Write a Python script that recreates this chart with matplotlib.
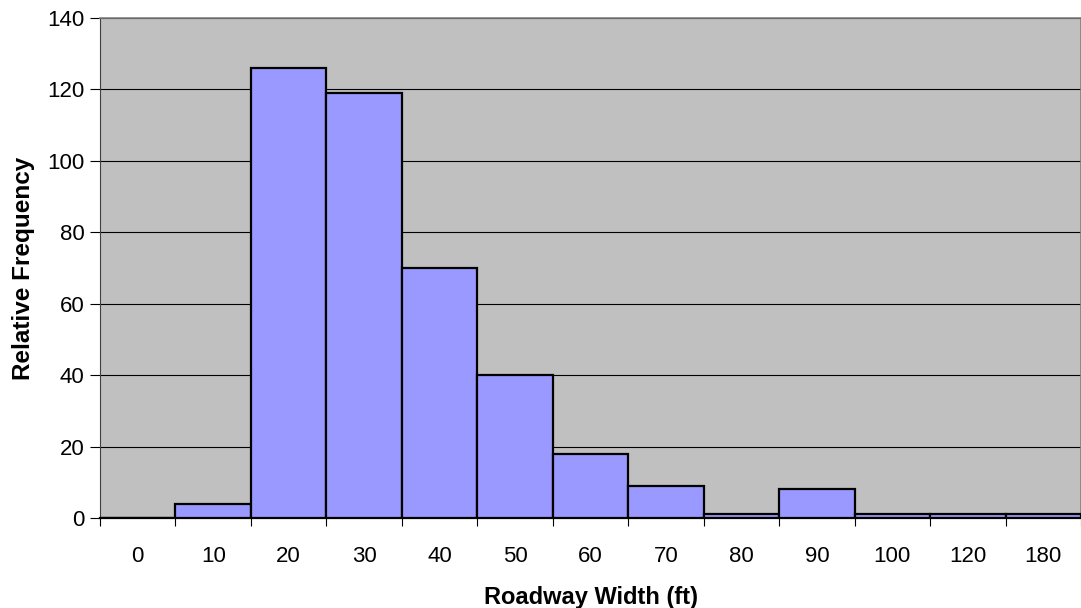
import numpy as np
import matplotlib
matplotlib.use("Agg")
import matplotlib.pyplot as plt

# data
widths = ["0", "10", "20", "30", "40", "50", "60", "70", "80", "90", "100", "120", "180"]
freq = [0, 4, 126, 119, 70, 40, 18, 9, 1, 8, 1, 1, 1]

plt.rcParams['font.family'] = ['Liberation Sans', 'DejaVu Sans']

fig = plt.figure(figsize=(10.81, 6.08), dpi=100)
ax = fig.add_axes([100 / 1081, 90 / 608, 981 / 1081, 500 / 608])
ax.set_facecolor('#C0C0C0')

x = np.arange(len(widths))
ax.bar(x, freq, width=1.0, color='#9999FF', edgecolor='black', linewidth=1.6, zorder=3)

ax.set_xlim(-0.5, len(widths) - 0.5)
ax.set_ylim(0, 140)
ax.set_yticks(np.arange(0, 141, 20))
ax.yaxis.grid(True, color='black', linewidth=0.8, zorder=1)
ax.set_axisbelow(True)

# ticks at category boundaries, labels centered on categories
ax.set_xticks(np.arange(-0.5, len(widths), 1.0))
ax.set_xticklabels([])
ax.set_xticks(x, minor=True)
ax.set_xticklabels(widths, minor=True)
ax.tick_params(axis='x', which='major', length=6, width=0.8, color='black', direction='out')
ax.tick_params(axis='x', which='minor', length=0, pad=20, labelsize=16)
ax.tick_params(axis='y', length=7, width=0.8, color='black', labelsize=16, pad=4)

for s in ['top', 'right']:
    ax.spines[s].set_color('#808080')
    ax.spines[s].set_linewidth(1.2)
ax.spines['left'].set_color('#404040')
ax.spines['bottom'].set_color('black')
ax.spines['bottom'].set_linewidth(1.6)

ax.set_xlabel('Roadway Width (ft)', fontsize=17, fontweight='bold', labelpad=14)
ax.set_ylabel('Relative Frequency', fontsize=17.5, fontweight='bold', labelpad=9)

fig.savefig('out.png', dpi=100)
